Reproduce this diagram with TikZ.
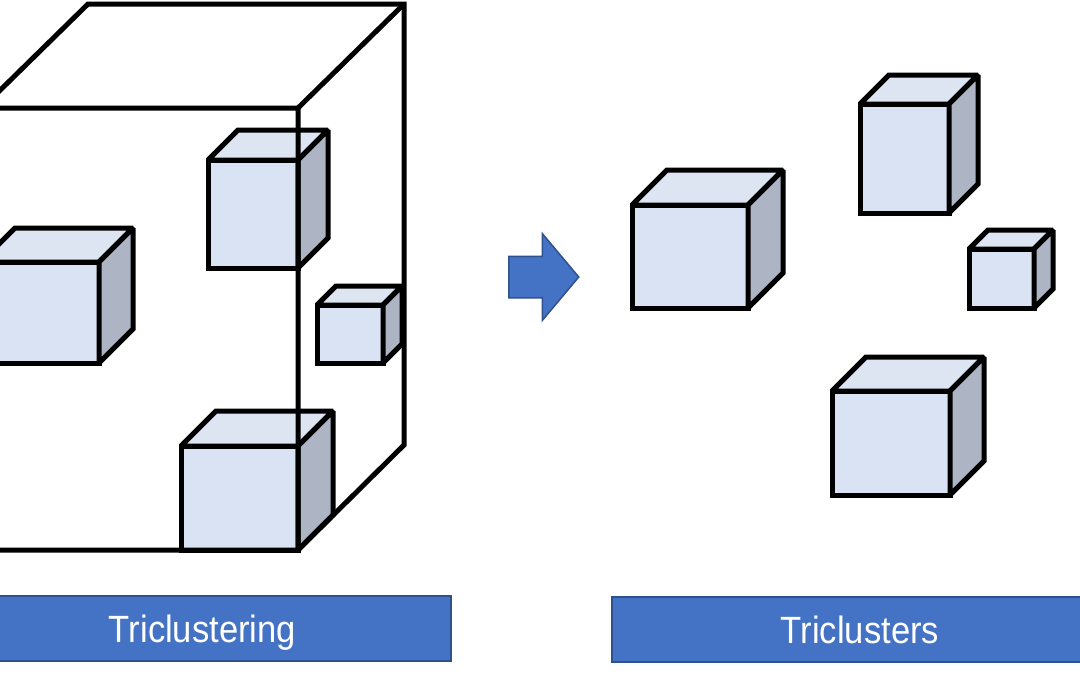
\documentclass[tikz,border=0pt]{standalone}
\usepackage{fontspec}
\setmainfont{Liberation Sans}
\usetikzlibrary{shapes.arrows}
\definecolor{boxblue}{HTML}{4472C4}
\definecolor{boxedge}{HTML}{2F528F}
\definecolor{cubefront}{HTML}{DAE3F3}
\definecolor{cubetop}{HTML}{DDE5F2}
\definecolor{cubeside}{HTML}{ADB5C5}
\tikzset{
    cubeline/.style={line width=5pt, line join=miter, miter limit=2, draw=black},
    banner/.style={rectangle, fill=boxblue, draw=boxedge, line width=1.5pt,
        minimum height=65pt, inner sep=0pt, text height=27.2pt, text depth=0pt,
        text=white, font=\fontsize{38}{40}\selectfont},
    bigarrow/.style={single arrow, fill=boxblue, draw=boxedge, line width=1.5pt,
        minimum height=70pt, inner xsep=0pt, inner ysep=20pt,
        single arrow head extend=22.5pt, single arrow tip angle=100,
        single arrow head indent=0pt}
}
% #1 left, #2 top, #3 right, #4 bottom, #5 depth of a small cube
\newcommand{\tricube}[5]{
    \filldraw[cubeline, fill=cubefront] (#1,#2) rectangle (#3,#4);
    \filldraw[cubeline, fill=cubetop] (#1,#2) -- ++(#5,-#5) -- (#3+#5,#2-#5) -- (#3,#2) -- cycle;
    \filldraw[cubeline, fill=cubeside] (#3,#2) -- (#3+#5,#2-#5) -- (#3+#5,#4-#5) -- (#3,#4) -- cycle;
}

\begin{document}
\begin{tikzpicture}[x=1pt, y=-1pt]
    \useasboundingbox (0,0) rectangle (1080,675);
    \clip (0,0) rectangle (1080,675);

    % cubes inside the tensor
    \tricube{-19}{262}{99}{363}{34}
    \tricube{208}{160}{298}{268}{30}
    \tricube{317}{305}{383}{363}{19}
    \tricube{181}{446}{298}{550}{35}

    % the tensor
    \draw[cubeline] (-18,550) -- (298,550) -- (298,108) -- (-18,108) -- (88,4)
        -- (404,4) -- (404,445) -- (298,550);
    \draw[cubeline] (298,108) -- (404,4);

    % arrow
    \node[bigarrow, anchor=tail] (step) at (508,277) {};

    % triclusters
    \tricube{632}{205}{748}{308}{35}
    \tricube{860}{104}{949}{213}{29}
    \tricube{969}{249}{1034}{308}{19}
    \tricube{832}{391}{950}{495}{34}

    % captions
    \node[banner, minimum width=497pt] (left) at (202.5,628.5) {\scalebox{0.91}[1]{Triclustering}};
    \node[banner, minimum width=496pt] (right) at (860,629.5) {\scalebox{0.91}[1]{Triclusters}};
\end{tikzpicture}
\end{document}
